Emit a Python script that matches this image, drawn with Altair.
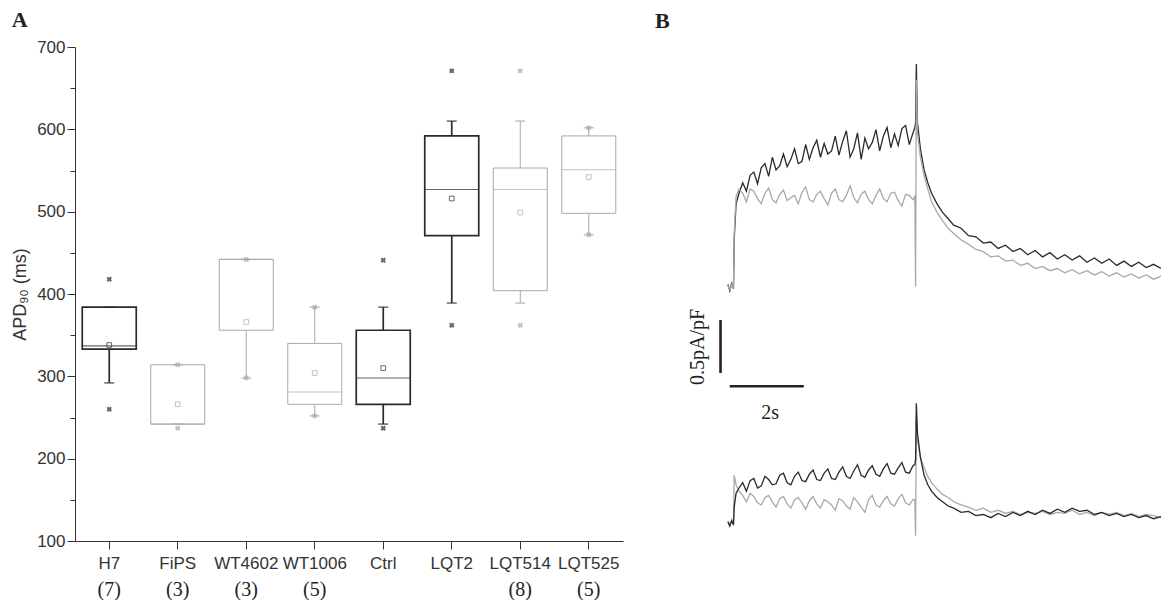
import altair as alt
import pandas as pd

# ---------------- Panel A data (APD90, ms) ----------------
categories = ["H7", "FiPS", "WT4602", "WT1006", "Ctrl", "LQT2", "LQT514", "LQT525"]
counts = ["(7)", "(3)", "(3)", "(5)", "", "", "(8)", "(5)"]
tone = ["dark", "gray", "gray", "gray", "dark", "dark", "gray", "gray"]
q1 = [333, 242, 356, 266, 266, 471, 404, 498]
median = [337, 242, 442, 281, 298, 527, 527, 551]
q3 = [384, 314, 442, 340, 356, 592, 553, 592]
whisker_low = [292, 242, 298, 252, 242, 389, 389, 472]
whisker_high = [384, 314, 442, 384, 384, 610, 610, 602]
mean = [338, 266, 366, 304, 310, 516, 499, 542]
max_val = [418, 314, 442, 384, 441, 671, 671, 602]
min_val = [260, 237, 298, 252, 237, 362, 362, 472]

# ---------------- Panel B data (current traces) ----------------
t_s = [0.0, 0.05, 0.1, 0.15,
       0.17, 0.22, 0.3,
       0.4, 0.5, 0.6, 0.7, 0.8, 0.9, 1.0, 1.1, 1.2, 1.3,
       1.4, 1.5, 1.6, 1.7, 1.8, 1.9, 2.0, 2.1, 2.2, 2.3,
       2.4, 2.5, 2.6, 2.7, 2.8, 2.9, 3.0, 3.1, 3.2, 3.3,
       3.4, 3.5, 3.6, 3.7, 3.8, 3.9, 4.0, 4.1, 4.2, 4.3,
       4.4, 4.5, 4.6, 4.7, 4.8, 4.9, 5.0,
       5.05, 5.07, 5.09, 5.12,
       5.2, 5.3, 5.4, 5.5, 5.65, 5.8, 5.95, 6.1, 6.3, 6.5,
       6.7, 6.9, 7.1, 7.3, 7.5, 7.7, 7.9, 8.1, 8.3, 8.5,
       8.7, 8.9, 9.1, 9.3, 9.5, 9.7, 9.9, 10.1, 10.3, 10.5,
       10.7, 10.9, 11.1, 11.3, 11.5, 11.7]

upper_black = [0.02, -0.04, 0.03, -0.02,
               0.45, 0.78, 0.88,
               0.98, 0.90, 1.05, 1.08, 0.97, 1.12, 1.16, 1.04, 1.22, 1.10,
               1.14, 1.25, 1.13, 1.20, 1.30, 1.16, 1.18, 1.34, 1.20, 1.31,
               1.38, 1.22, 1.35, 1.25, 1.28, 1.42, 1.24, 1.37, 1.47, 1.22,
               1.30, 1.45, 1.20, 1.40, 1.30, 1.36, 1.48, 1.28, 1.42, 1.50,
               1.31, 1.44, 1.33, 1.49, 1.52, 1.34, 1.45,
               1.50, 1.55, 2.10, 1.55,
               1.30, 1.10, 0.98, 0.88, 0.78, 0.70, 0.64, 0.58, 0.55, 0.48,
               0.47, 0.41, 0.42, 0.36, 0.39, 0.33, 0.36, 0.30, 0.34, 0.28,
               0.32, 0.26, 0.30, 0.25, 0.29, 0.23, 0.27, 0.22, 0.26, 0.20,
               0.24, 0.19, 0.23, 0.18, 0.21, 0.17]

upper_gray = [0.01, -0.03, 0.02, -0.01,
              0.50, 0.85, 0.92,
              0.88, 0.80, 0.92, 0.90, 0.83, 0.78, 0.88, 0.93, 0.82, 0.79,
              0.87, 0.91, 0.81, 0.84, 0.86, 0.78, 0.89, 0.94, 0.82, 0.80,
              0.87, 0.90, 0.83, 0.77, 0.88, 0.92, 0.82, 0.80, 0.86, 0.95,
              0.84, 0.79, 0.87, 0.90, 0.82, 0.78, 0.86, 0.92, 0.83, 0.80,
              0.88, 0.89, 0.81, 0.76, 0.87, 0.86, 0.82,
              0.85, 0.00, 1.95, 1.45,
              1.22, 1.05, 0.92, 0.80, 0.70, 0.62, 0.55, 0.50, 0.44, 0.40,
              0.35, 0.33, 0.28, 0.29, 0.24, 0.25, 0.20, 0.22, 0.17, 0.19,
              0.15, 0.17, 0.13, 0.16, 0.12, 0.15, 0.11, 0.14, 0.10, 0.13,
              0.09, 0.12, 0.08, 0.11, 0.07, 0.10]

lower_black = [0.01, -0.03, 0.02, -0.02,
               0.15, 0.28, 0.33,
               0.38, 0.30, 0.40, 0.42, 0.33, 0.35, 0.44, 0.41, 0.36, 0.37,
               0.45, 0.47, 0.38, 0.36, 0.44, 0.48, 0.40, 0.39, 0.46, 0.50,
               0.41, 0.40, 0.47, 0.51, 0.42, 0.41, 0.48, 0.53, 0.44, 0.42,
               0.49, 0.55, 0.45, 0.43, 0.50, 0.54, 0.46, 0.44, 0.51, 0.56,
               0.47, 0.46, 0.52, 0.57, 0.48, 0.47, 0.54,
               0.55, 0.60, 1.13, 0.85,
               0.62, 0.45, 0.36, 0.30, 0.24, 0.20, 0.16, 0.14, 0.10, 0.11,
               0.07, 0.08, 0.05, 0.09, 0.06, 0.10, 0.07, 0.11, 0.08, 0.12,
               0.09, 0.13, 0.10, 0.14, 0.11, 0.12, 0.08, 0.10, 0.07, 0.09,
               0.06, 0.08, 0.05, 0.07, 0.04, 0.06]

lower_gray = [0.02, -0.02, 0.03, -0.01,
              0.45, 0.36, 0.30,
              0.26, 0.20, 0.28, 0.25, 0.19, 0.17, 0.24, 0.26, 0.20, 0.15,
              0.23, 0.25, 0.18, 0.14, 0.22, 0.24, 0.19, 0.13, 0.21, 0.25,
              0.18, 0.14, 0.22, 0.20, 0.17, 0.12, 0.23, 0.21, 0.16, 0.13,
              0.24, 0.20, 0.15, 0.10, 0.22, 0.26, 0.17, 0.15, 0.21, 0.25,
              0.18, 0.16, 0.23, 0.27, 0.19, 0.17, 0.22,
              0.22, -0.12, 1.00, 0.78,
              0.62, 0.52, 0.44, 0.38, 0.32, 0.27, 0.24, 0.20, 0.17, 0.15,
              0.12, 0.14, 0.10, 0.12, 0.09, 0.11, 0.08, 0.10, 0.09, 0.11,
              0.08, 0.10, 0.09, 0.12, 0.08, 0.10, 0.07, 0.10, 0.08, 0.10,
              0.07, 0.09, 0.06, 0.08, 0.07, 0.05]

UPPER_OFFSET = 2.23  # vertical separation of the two recordings (pA/pF)

# scale bars: 2 s and 0.5 pA/pF
bar_t = [-0.2, 0.05]
bar_t2 = [-0.2, 2.05]
bar_y = [1.415, 1.29]
bar_y2 = [1.915, 1.29]

# ---------------- Build tables ----------------
box_df = pd.DataFrame({
    "cat": categories, "count": counts, "tone": tone, "q1": q1, "median": median,
    "q3": q3, "wlo": whisker_low, "whi": whisker_high, "mean": mean,
})
ext_df = pd.DataFrame({
    "cat": categories * 2, "tone": tone * 2, "v": max_val + min_val,
})

rows = []
for name, vals, color, off in [
    ("upper_black", upper_black, "black", UPPER_OFFSET),
    ("upper_gray", upper_gray, "gray", UPPER_OFFSET),
    ("lower_gray", lower_gray, "gray", 0.0),
    ("lower_black", lower_black, "black", 0.0),
]:
    for t, v in zip(t_s, vals):
        rows.append({"trace": name, "color": color, "t": t, "i": v + off})
trace_df = pd.DataFrame(rows)

bars_df = pd.DataFrame({"t": bar_t, "t2": bar_t2, "y": bar_y, "y2": bar_y2})
btext_df = pd.DataFrame({"label": ["0.5pA/pF", "2s"], "t": [-0.81, 1.14],
                         "y": [1.66, 1.04], "angle": [270, 0]})

# ---------------- Panel A ----------------
SANS = "Liberation Sans"
SERIF = "Times New Roman, Liberation Serif, serif"

xenc = alt.X("cat:N", scale=alt.Scale(domain=categories, paddingInner=0, paddingOuter=0),
             axis=alt.Axis(title=None, labelFont=SANS, labelFontSize=17, labelColor="#333",
                           labelAngle=0, tickSize=8, labelPadding=6, domainColor="#333",
                           tickColor="#333"))
yscale = alt.Scale(domain=[100, 700], nice=False, zero=False)
yaxis = alt.Axis(title="APD₉₀ (ms)", titleFont=SANS, titleFontSize=18, titleFontWeight="normal",
                 titleColor="#333", titlePadding=7,
                 values=list(range(100, 701, 50)),
                 labelExpr="datum.value % 100 === 0 ? datum.label : ''",
                 labelFont=SANS, labelFontSize=17, labelColor="#333", labelPadding=2,
                 tickSize={"condition": {"test": "datum.value % 100 === 0", "value": 8}, "value": 5},
                 domainColor="#333", tickColor="#333", grid=False)

tone_color = alt.Scale(domain=["dark", "gray"], range=["#2a2a2a", "#a8a8a8"])
tone_width = alt.Scale(domain=["dark", "gray"], range=[1.7, 1.0])

base = alt.Chart(box_df)
boxes = base.mark_bar(size=54, fill="white", fillOpacity=0).encode(
    x=xenc,
    y=alt.Y("q1:Q", scale=yscale, axis=yaxis),
    y2="q3:Q",
    stroke=alt.Stroke("tone:N", scale=tone_color, legend=None),
    strokeWidth=alt.StrokeWidth("tone:N", scale=tone_width, legend=None),
)
whisk_lo = base.mark_rule().encode(
    x="cat:N", y="wlo:Q", y2="q1:Q",
    color=alt.Color("tone:N", scale=tone_color, legend=None),
    strokeWidth=alt.StrokeWidth("tone:N", scale=tone_width, legend=None),
)
whisk_hi = base.mark_rule().encode(
    x="cat:N", y="q3:Q", y2="whi:Q",
    color=alt.Color("tone:N", scale=tone_color, legend=None),
    strokeWidth=alt.StrokeWidth("tone:N", scale=tone_width, legend=None),
)
cap_lo = base.mark_tick(size=10, thickness=1.5).encode(
    x="cat:N", y="wlo:Q", color=alt.Color("tone:N", scale=tone_color, legend=None))
cap_hi = base.mark_tick(size=10, thickness=1.5).encode(
    x="cat:N", y="whi:Q", color=alt.Color("tone:N", scale=tone_color, legend=None))
med = base.mark_tick(size=54, thickness=1.1).encode(
    x="cat:N", y="median:Q", color=alt.Color("tone:N", scale=tone_color, legend=None))
means = base.mark_point(shape="square", size=22, filled=False, strokeWidth=1).encode(
    x="cat:N", y="mean:Q", color=alt.Color("tone:N", scale=tone_color, legend=None))
extremes = alt.Chart(ext_df).mark_point(shape="cross", angle=45, size=30, filled=True).encode(
    x="cat:N", y="v:Q", color=alt.Color("tone:N", scale=tone_color, legend=None))
count_text = base.mark_text(font=SERIF, fontSize=20, baseline="middle", color="#222").encode(
    x="cat:N", y=alt.value(543), text="count:N")

panel_a = alt.layer(boxes, whisk_lo, whisk_hi, cap_lo, cap_hi, med, means, extremes,
                    count_text).properties(
    width=548, height=494,
    title=alt.TitleParams("A", anchor="start", frame="bounds", font=SERIF, fontSize=22,
                          fontWeight="bold", color="#222", offset=6),
)

# ---------------- Panel B ----------------
bx = alt.Scale(domain=[-1.97, 11.7], nice=False, zero=False)
by = alt.Scale(domain=[-0.17, 4.49], nice=False, zero=False)

lines = alt.Chart(trace_df).mark_line(strokeWidth=1.3, clip=True).encode(
    x=alt.X("t:Q", scale=bx, axis=None),
    y=alt.Y("i:Q", scale=by, axis=None),
    detail="trace:N",
    color=alt.Color("color:N", scale=alt.Scale(domain=["black", "gray"],
                                               range=["#1e1e1e", "#9c9c9c"]), legend=None),
    order=alt.Order("t:Q"),
)
scalebars = alt.Chart(bars_df).mark_rule(strokeWidth=2.6, color="#222").encode(
    x=alt.X("t:Q", scale=bx, axis=None), x2="t2:Q",
    y=alt.Y("y:Q", scale=by, axis=None), y2="y2:Q",
)
btext = alt.Chart(btext_df).mark_text(font=SERIF, fontSize=20, color="#222",
                                      baseline="middle", align="center").encode(
    x=alt.X("t:Q", scale=bx, axis=None),
    y=alt.Y("y:Q", scale=by, axis=None),
    text="label:N",
    angle=alt.Angle("angle:Q", scale=None),
)

panel_b = alt.layer(lines, scalebars, btext).properties(
    width=506, height=494,
    title=alt.TitleParams("B", anchor="start", frame="group", font=SERIF, fontSize=22,
                          fontWeight="bold", color="#222", offset=14),
)

chart = alt.hconcat(panel_a, panel_b, spacing=32).configure_view(stroke=None).properties(
    padding={"left": 3, "top": 1, "right": 0, "bottom": 0}
)

chart.save("out.html", embed_options={"renderer": "svg", "actions": False})
